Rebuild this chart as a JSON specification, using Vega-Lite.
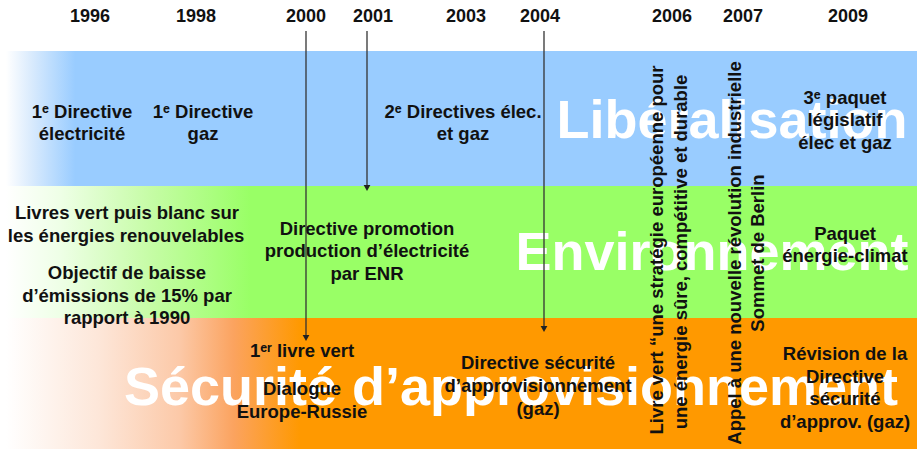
{
  "$schema": "https://vega.github.io/schema/vega-lite/v6.json",
  "width": 917,
  "height": 451,
  "autosize": {"type": "fit", "contains": "padding"},
  "padding": 0,
  "background": "white",
  "config": {"view": {"stroke": null}},
  "datasets": {
    "bands": [
      {"band": "Libéralisation", "x": 6, "x2": 917, "y": 51, "y2": 186},
      {"band": "Environnement", "x": 6, "x2": 917, "y": 186, "y2": 318},
      {"band": "Sécurité", "x": 6, "x2": 917, "y": 318, "y2": 449}
    ],
    "big": [
      {"label": "Libéralisation", "x": 732, "y": 138},
      {"label": "Environnement", "x": 712, "y": 270},
      {"label": "Sécurité d’approvisionnement", "x": 511, "y": 405}
    ],
    "years": [
      {"label": "1996", "x": 90, "y": 22},
      {"label": "1998", "x": 196, "y": 22},
      {"label": "2000", "x": 306, "y": 22},
      {"label": "2001", "x": 373, "y": 22},
      {"label": "2003", "x": 466, "y": 22},
      {"label": "2004", "x": 540, "y": 22},
      {"label": "2006", "x": 672, "y": 22},
      {"label": "2007", "x": 743, "y": 22},
      {"label": "2009", "x": 848, "y": 22}
    ],
    "lines": [
      {"year": 2000, "x": 306, "y": 31, "y2": 339},
      {"year": 2001, "x": 367, "y": 31, "y2": 189},
      {"year": 2004, "x": 544, "y": 31, "y2": 330}
    ],
    "arrows": [
      {"year": 2000, "x": 306, "y": 338},
      {"year": 2001, "x": 367, "y": 188},
      {"year": 2004, "x": 544, "y": 329}
    ],
    "labels": [
      {"label": "1ᵉ Directive", "x": 82, "y": 118},
      {"label": "électricité", "x": 82, "y": 140},
      {"label": "1ᵉ Directive", "x": 203, "y": 118},
      {"label": "gaz", "x": 203, "y": 140},
      {"label": "2ᵉ Directives élec.", "x": 463, "y": 118},
      {"label": "et gaz", "x": 463, "y": 140},
      {"label": "3ᵉ paquet", "x": 845, "y": 104},
      {"label": "législatif", "x": 845, "y": 126},
      {"label": "élec et gaz", "x": 845, "y": 149},
      {"label": "Livres vert puis blanc sur", "x": 127, "y": 219},
      {"label": "les énergies renouvelables", "x": 126, "y": 242},
      {"label": "Objectif de baisse", "x": 127, "y": 279},
      {"label": "d’émissions de 15% par", "x": 127, "y": 302},
      {"label": "rapport à 1990", "x": 127, "y": 324},
      {"label": "Directive promotion", "x": 367, "y": 235},
      {"label": "production d’électricité", "x": 367, "y": 257},
      {"label": "par ENR", "x": 367, "y": 280},
      {"label": "Paquet", "x": 845, "y": 240},
      {"label": "énergie-climat", "x": 845, "y": 262},
      {"label": "1ᵉʳ livre vert", "x": 302, "y": 357},
      {"label": "Dialogue", "x": 302, "y": 395},
      {"label": "Europe-Russie", "x": 302, "y": 418},
      {"label": "Directive sécurité", "x": 538, "y": 369},
      {"label": "d’approvisionnement", "x": 538, "y": 392},
      {"label": "(gaz)", "x": 538, "y": 415},
      {"label": "Révision de la", "x": 845, "y": 360},
      {"label": "Directive", "x": 845, "y": 383},
      {"label": "sécurité", "x": 845, "y": 405},
      {"label": "d’approv. (gaz)", "x": 845, "y": 428}
    ],
    "vertical": [
      {"label": "Livre vert “une stratégie européenne pour", "x": 657, "y": 250},
      {"label": "une énergie sûre, compétitive et durable", "x": 681, "y": 252},
      {"label": "Appel à une nouvelle révolution industrielle", "x": 735, "y": 253},
      {"label": "Sommet de Berlin", "x": 758, "y": 253}
    ]
  },
  "encoding": {
    "x": {"field": "x", "type": "quantitative", "scale": {"domain": [0, 917], "nice": false, "zero": false}, "axis": null},
    "y": {"field": "y", "type": "quantitative", "scale": {"domain": [0, 451], "reverse": true, "nice": false, "zero": false}, "axis": null}
  },
  "layer": [
    {
      "data": {"name": "bands"},
      "transform": [{"filter": "datum.band == 'Libéralisation'"}],
      "mark": {"type": "rect", "color": {"gradient": "linear", "x1": 0, "y1": 0, "x2": 1, "y2": 0,
        "stops": [{"offset": 0, "color": "#ffffff"}, {"offset": 0.026, "color": "#dcecfd"}, {"offset": 0.076, "color": "#99ccff"}, {"offset": 1, "color": "#99ccff"}]}},
      "encoding": {"x2": {"field": "x2"}, "y2": {"field": "y2"}}
    },
    {
      "data": {"name": "bands"},
      "transform": [{"filter": "datum.band == 'Environnement'"}],
      "mark": {"type": "rect", "color": {"gradient": "linear", "x1": 0, "y1": 0, "x2": 1, "y2": 0,
        "stops": [{"offset": 0, "color": "#ffffff"}, {"offset": 0.06, "color": "#eeffe6"}, {"offset": 0.158, "color": "#c6fca6"}, {"offset": 0.268, "color": "#99ff66"}, {"offset": 1, "color": "#99ff66"}]}},
      "encoding": {"x2": {"field": "x2"}, "y2": {"field": "y2"}}
    },
    {
      "data": {"name": "bands"},
      "transform": [{"filter": "datum.band == 'Sécurité'"}],
      "mark": {"type": "rect", "color": {"gradient": "linear", "x1": 0, "y1": 0, "x2": 1, "y2": 0,
        "stops": [{"offset": 0, "color": "#ffffff"}, {"offset": 0.103, "color": "#fde6d8"}, {"offset": 0.19, "color": "#fcc9a8"}, {"offset": 0.25, "color": "#fba35f"}, {"offset": 0.323, "color": "#ff9900"}, {"offset": 1, "color": "#ff9900"}]}},
      "encoding": {"x2": {"field": "x2"}, "y2": {"field": "y2"}}
    },
    {
      "data": {"name": "big"},
      "mark": {"type": "text", "font": "Liberation Sans", "fontWeight": "bold", "fontSize": 54, "color": "#ffffff", "align": "center", "baseline": "alphabetic"},
      "encoding": {"text": {"field": "label"}}
    },
    {
      "data": {"name": "labels"},
      "mark": {"type": "text", "font": "Liberation Sans", "fontWeight": "bold", "fontSize": 18.5, "color": "#111111", "align": "center", "baseline": "alphabetic"},
      "encoding": {"text": {"field": "label"}}
    },
    {
      "data": {"name": "vertical"},
      "mark": {"type": "text", "font": "Liberation Sans", "fontWeight": "bold", "fontSize": 18.5, "color": "#111111", "align": "center", "baseline": "middle", "angle": 270},
      "encoding": {"text": {"field": "label"}}
    },
    {
      "data": {"name": "years"},
      "mark": {"type": "text", "font": "Liberation Sans", "fontWeight": "bold", "fontSize": 18, "color": "#111111", "align": "center", "baseline": "alphabetic"},
      "encoding": {"text": {"field": "label"}}
    },
    {
      "data": {"name": "lines"},
      "mark": {"type": "rule", "color": "#333333", "strokeWidth": 1.3},
      "encoding": {"y2": {"field": "y2"}}
    },
    {
      "data": {"name": "arrows"},
      "mark": {"type": "point", "shape": "triangle-down", "filled": true, "size": 45, "color": "#222222", "opacity": 1},
      "encoding": {}
    }
  ]
}
